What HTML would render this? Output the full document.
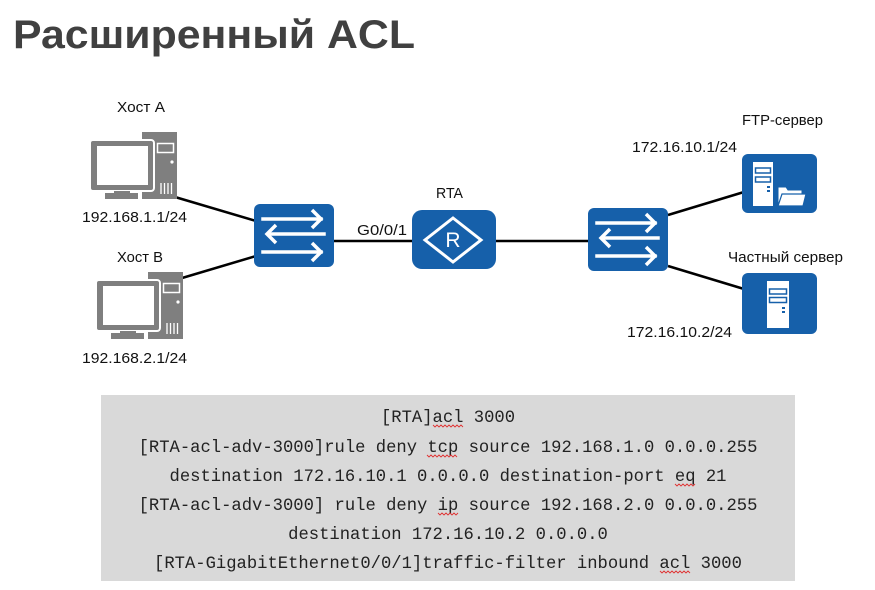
<!DOCTYPE html>
<html>
<head>
<meta charset="utf-8">
<style>
  html,body{margin:0;padding:0;background:#fff;}
  svg{display:block;}
</style>
</head>
<body>
<svg width="875" height="590" viewBox="0 0 875 590" xmlns="http://www.w3.org/2000/svg">
  <rect width="875" height="590" fill="#fff"/>
  <!-- Title -->
  <text x="13" y="48" font-family="Liberation Sans, Arial, sans-serif" font-weight="bold" font-size="40" fill="#404040" textLength="402" lengthAdjust="spacingAndGlyphs">Расширенный ACL</text>

  <!-- Connectors -->
  <g stroke="#000" stroke-width="2.5" fill="none">
    <line x1="175" y1="197" x2="256" y2="221"/>
    <line x1="172" y1="281" x2="256" y2="256"/>
    <line x1="334" y1="241" x2="412" y2="241"/>
    <line x1="496" y1="241" x2="588" y2="241"/>
    <line x1="668" y1="215" x2="744" y2="192"/>
    <line x1="668" y1="266" x2="744" y2="289"/>
  </g>

  <!-- PC A -->
  <g id="pc">
    <rect x="142" y="132" width="35" height="67" fill="#7f7f7f"/>
    <rect x="157.5" y="143.5" width="16" height="9" fill="none" stroke="#fff" stroke-width="1.5"/>
    <circle cx="172" cy="162" r="1.6" fill="#fff"/>
    <g stroke="#fff" stroke-width="1.3">
      <line x1="161" y1="183" x2="161" y2="194"/>
      <line x1="164.5" y1="183" x2="164.5" y2="194"/>
      <line x1="168" y1="183" x2="168" y2="194"/>
      <line x1="171.5" y1="183" x2="171.5" y2="194"/>
    </g>
    <rect x="90" y="140" width="64" height="51" rx="3" fill="#7f7f7f" stroke="#fff" stroke-width="2"/>
    <rect x="97" y="146" width="51" height="39" fill="#fff"/>
    <rect x="114" y="191" width="16" height="3" fill="#7f7f7f"/>
    <rect x="105" y="193" width="33" height="6" fill="#7f7f7f"/>
  </g>
  <!-- PC B -->
  <g transform="translate(6,140)">
    <rect x="142" y="132" width="35" height="67" fill="#7f7f7f"/>
    <rect x="157.5" y="143.5" width="16" height="9" fill="none" stroke="#fff" stroke-width="1.5"/>
    <circle cx="172" cy="162" r="1.6" fill="#fff"/>
    <g stroke="#fff" stroke-width="1.3">
      <line x1="161" y1="183" x2="161" y2="194"/>
      <line x1="164.5" y1="183" x2="164.5" y2="194"/>
      <line x1="168" y1="183" x2="168" y2="194"/>
      <line x1="171.5" y1="183" x2="171.5" y2="194"/>
    </g>
    <rect x="90" y="140" width="64" height="51" rx="3" fill="#7f7f7f" stroke="#fff" stroke-width="2"/>
    <rect x="97" y="146" width="51" height="39" fill="#fff"/>
    <rect x="114" y="191" width="16" height="3" fill="#7f7f7f"/>
    <rect x="105" y="193" width="33" height="6" fill="#7f7f7f"/>
  </g>

  <!-- Switch 1 -->
  <g transform="translate(254,204)">
    <rect x="0" y="0" width="80" height="63" rx="6" fill="#1660aa"/>
    <g stroke="#fff" stroke-width="3.5" fill="none" stroke-linecap="square">
      <line x1="9" y1="15" x2="67" y2="15"/>
      <polyline points="58,6 67,15 58,24" stroke-linecap="butt"/>
      <line x1="15" y1="30" x2="70" y2="30"/>
      <polyline points="22,21 13,30 22,39" stroke-linecap="butt"/>
      <line x1="9" y1="48" x2="67" y2="48"/>
      <polyline points="58,39 67,48 58,57" stroke-linecap="butt"/>
    </g>
  </g>
  <!-- Switch 2 -->
  <g transform="translate(588,208)">
    <rect x="0" y="0" width="80" height="63" rx="6" fill="#1660aa"/>
    <g stroke="#fff" stroke-width="3.5" fill="none" stroke-linecap="square">
      <line x1="9" y1="15" x2="67" y2="15"/>
      <polyline points="58,6 67,15 58,24" stroke-linecap="butt"/>
      <line x1="15" y1="30" x2="70" y2="30"/>
      <polyline points="22,21 13,30 22,39" stroke-linecap="butt"/>
      <line x1="9" y1="48" x2="67" y2="48"/>
      <polyline points="58,39 67,48 58,57" stroke-linecap="butt"/>
    </g>
  </g>

  <!-- Router -->
  <rect x="412" y="210" width="84" height="59" rx="10" fill="#1660aa"/>
  <polygon points="453,218 481,240 453,262 425,240" fill="none" stroke="#fff" stroke-width="3"/>
  <text x="453" y="247" text-anchor="middle" font-family="Liberation Sans, Arial, sans-serif" font-size="21" fill="#fff">R</text>

  <!-- FTP server -->
  <rect x="742" y="154" width="75" height="59" rx="6" fill="#1660aa"/>
  <rect x="753" y="162" width="20" height="44" fill="#fff"/>
  <rect x="755.5" y="168" width="15" height="5" fill="none" stroke="#1660aa" stroke-width="1.5"/>
  <rect x="755.5" y="177" width="15" height="5" fill="none" stroke="#1660aa" stroke-width="1.5"/>
  <rect x="767" y="186" width="3" height="2" fill="#1660aa"/>
  <rect x="767" y="190" width="3" height="2" fill="#1660aa"/>
  <path d="M778,206 L778,187 L786,187 L788,190 L802,190 L802,206 Z" fill="#fff" stroke="#1660aa" stroke-width="1"/>
  <path d="M778,206 L782,194 L806,194 L803,206 Z" fill="#fff" stroke="#1660aa" stroke-width="1.2"/>

  <!-- Private server -->
  <rect x="742" y="273" width="75" height="61" rx="6" fill="#1660aa"/>
  <rect x="767" y="281" width="22" height="47" fill="#fff"/>
  <rect x="769.5" y="289" width="17" height="5" fill="none" stroke="#1660aa" stroke-width="1.5"/>
  <rect x="769.5" y="297.5" width="17" height="5" fill="none" stroke="#1660aa" stroke-width="1.5"/>
  <rect x="782" y="307" width="3" height="2" fill="#1660aa"/>
  <rect x="782" y="311" width="3" height="2" fill="#1660aa"/>

  <!-- Labels -->
  <g font-family="Liberation Sans, Arial, sans-serif" font-size="15" fill="#111">
    <text x="117" y="112" textLength="48" lengthAdjust="spacingAndGlyphs">Хост А</text>
    <text x="82" y="222" textLength="105" lengthAdjust="spacingAndGlyphs">192.168.1.1/24</text>
    <text x="117" y="262" textLength="46" lengthAdjust="spacingAndGlyphs">Хост В</text>
    <text x="82" y="363" textLength="105" lengthAdjust="spacingAndGlyphs">192.168.2.1/24</text>
    <text x="436" y="198" textLength="27" lengthAdjust="spacingAndGlyphs">RTA</text>
    <text x="357" y="235" textLength="50" lengthAdjust="spacingAndGlyphs">G0/0/1</text>
    <text x="742" y="125" textLength="81" lengthAdjust="spacingAndGlyphs">FTP-сервер</text>
    <text x="632" y="152" textLength="105" lengthAdjust="spacingAndGlyphs">172.16.10.1/24</text>
    <text x="728" y="262" textLength="115" lengthAdjust="spacingAndGlyphs">Частный сервер</text>
    <text x="627" y="337" textLength="105" lengthAdjust="spacingAndGlyphs">172.16.10.2/24</text>
  </g>

  <!-- Code box -->
  <rect x="101" y="395" width="694" height="186" fill="#d9d9d9"/>
  <g font-family="Liberation Mono, Courier New, monospace" font-size="17.2" fill="#222" text-anchor="middle" xml:space="preserve">
    <text x="448" y="422">[RTA]acl 3000</text>
    <text x="448" y="452">[RTA-acl-adv-3000]rule deny tcp source 192.168.1.0 0.0.0.255</text>
    <text x="448" y="481">destination 172.16.10.1 0.0.0.0 destination-port eq 21</text>
    <text x="448" y="510">[RTA-acl-adv-3000] rule deny ip source 192.168.2.0 0.0.0.255</text>
    <text x="448" y="539">destination 172.16.10.2 0.0.0.0</text>
    <text x="448" y="568">[RTA-GigabitEthernet0/0/1]traffic-filter inbound acl 3000</text>
  </g>
  <!-- spell-check squiggles -->
  <g stroke="#e03030" stroke-width="0.9" fill="none">
    <path d="M433,425 l2,2 l2,-2 l2,2 l2,-2 l2,2 l2,-2 l2,2 l2,-2 l2,2 l2,-2 l2,2 l2,-2 l2,2 l2,-2 l2,2"/>
    <path d="M427,455 l2,2 l2,-2 l2,2 l2,-2 l2,2 l2,-2 l2,2 l2,-2 l2,2 l2,-2 l2,2 l2,-2 l2,2 l2,-2 l2,2"/>
    <path d="M675,484 l2,2 l2,-2 l2,2 l2,-2 l2,2 l2,-2 l2,2 l2,-2 l2,2 l2,-2"/>
    <path d="M438,513 l2,2 l2,-2 l2,2 l2,-2 l2,2 l2,-2 l2,2 l2,-2 l2,2 l2,-2"/>
    <path d="M660,571 l2,2 l2,-2 l2,2 l2,-2 l2,2 l2,-2 l2,2 l2,-2 l2,2 l2,-2 l2,2 l2,-2 l2,2 l2,-2 l2,2"/>
  </g>
</svg>
</body>
</html>
